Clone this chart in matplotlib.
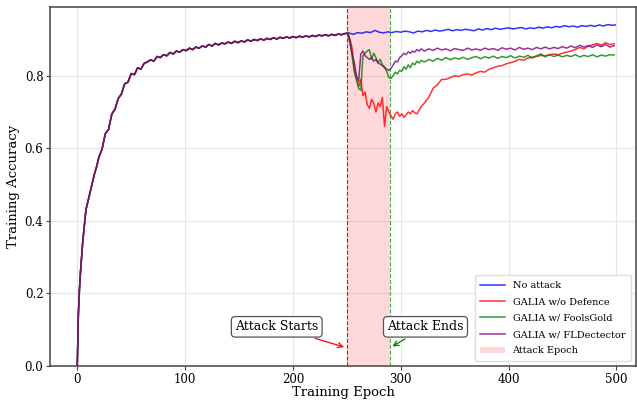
import matplotlib
matplotlib.use("Agg")
import matplotlib.pyplot as plt
import numpy as np

# 攻撃前の共通学習曲線 (全系列で同じ)
base_epochs = [0, 1, 2, 3, 4, 5, 6, 8, 10, 12, 14, 16, 18] + list(range(20, 251, 3)) + [250]
base_acc = [0.0, 0.14, 0.21, 0.26, 0.30, 0.34, 0.37, 0.43, 0.455, 0.48, 0.505, 0.53, 0.55,
            0.575, 0.598, 0.640, 0.652, 0.694, 0.708, 0.737, 0.750, 0.778, 0.782,
            0.806, 0.803, 0.822, 0.818, 0.834, 0.838, 0.844, 0.840, 0.853, 0.850,
            0.858, 0.855, 0.864, 0.860, 0.868, 0.865, 0.872, 0.869, 0.876, 0.872,
            0.879, 0.876, 0.882, 0.879, 0.886, 0.882, 0.889, 0.885, 0.890, 0.888,
            0.893, 0.889, 0.895, 0.891, 0.896, 0.893, 0.899, 0.895, 0.900, 0.897,
            0.902, 0.898, 0.903, 0.900, 0.905, 0.901, 0.906, 0.903, 0.907, 0.904,
            0.908, 0.905, 0.909, 0.906, 0.910, 0.907, 0.911, 0.908, 0.912, 0.910,
            0.913, 0.910, 0.914, 0.911, 0.915, 0.913, 0.916,
            0.917]

# 攻撃後 (No attack)
blue_epochs = list(range(252, 500, 4)) + [499]
blue_acc = [0.918, 0.914, 0.919, 0.917, 0.921, 0.919, 0.925, 0.920, 0.918, 0.921,
            0.919, 0.922, 0.920, 0.923, 0.921, 0.918, 0.923, 0.921, 0.925, 0.922,
            0.926, 0.923, 0.925, 0.928, 0.924, 0.927, 0.925, 0.928, 0.926, 0.924,
            0.929, 0.926, 0.930, 0.927, 0.931, 0.928, 0.930, 0.932, 0.929, 0.931,
            0.933, 0.929, 0.932, 0.930, 0.934, 0.931, 0.935, 0.932, 0.936, 0.934,
            0.938, 0.935, 0.937, 0.934, 0.938, 0.936, 0.939, 0.936, 0.940, 0.937,
            0.941, 0.939, 0.940]

# 攻撃中 / 攻撃後の系列
post_epochs = list(range(251, 321, 2)) + list(range(322, 500, 4))
red_acc = [0.915, 0.90, 0.875, 0.815, 0.79, 0.77, 0.79, 0.745, 0.755, 0.72,
           0.71, 0.735, 0.725, 0.70, 0.725, 0.715, 0.74, 0.66, 0.715, 0.70,
           0.69, 0.68, 0.695, 0.70, 0.688, 0.695, 0.685, 0.692, 0.70, 0.695,
           0.704, 0.698, 0.695, 0.705, 0.715,
           0.725, 0.74, 0.765, 0.775, 0.79, 0.79, 0.795, 0.80, 0.798, 0.803,
           0.805, 0.802, 0.808, 0.812, 0.81, 0.818, 0.822, 0.826, 0.828, 0.833,
           0.836, 0.84, 0.845, 0.843, 0.849, 0.85, 0.853, 0.856, 0.855, 0.858,
           0.86, 0.858, 0.862, 0.865, 0.868, 0.872, 0.878, 0.874, 0.882, 0.885,
           0.889, 0.884, 0.891, 0.886, 0.888]
green_acc = [0.92, 0.895, 0.853, 0.81, 0.79, 0.765, 0.76, 0.855, 0.862, 0.868,
             0.872, 0.845, 0.862, 0.85, 0.836, 0.845, 0.83, 0.825, 0.812, 0.795,
             0.793, 0.80, 0.81, 0.805, 0.815, 0.812, 0.825, 0.818, 0.83, 0.822,
             0.835, 0.83, 0.84, 0.835, 0.842,
             0.838, 0.845, 0.84, 0.848, 0.843, 0.85, 0.844, 0.849, 0.846, 0.851,
             0.845, 0.85, 0.853, 0.847, 0.852, 0.849, 0.854, 0.848, 0.853, 0.85,
             0.855, 0.849, 0.854, 0.851, 0.856, 0.85, 0.855, 0.86, 0.852, 0.858,
             0.853, 0.857, 0.852, 0.856, 0.853, 0.858, 0.852, 0.856, 0.853, 0.858,
             0.852, 0.857, 0.854, 0.858, 0.857]
purple_acc = [0.915, 0.89, 0.86, 0.835, 0.80, 0.785, 0.86, 0.868, 0.855, 0.85,
              0.845, 0.85, 0.84, 0.845, 0.835, 0.832, 0.828, 0.822, 0.818, 0.815,
              0.82, 0.83, 0.84, 0.838, 0.85, 0.855, 0.862, 0.858, 0.866, 0.862,
              0.868, 0.865, 0.872, 0.868, 0.874,
              0.868, 0.874, 0.87, 0.876, 0.871, 0.874, 0.869, 0.875, 0.872, 0.87,
              0.876, 0.871, 0.874, 0.87, 0.876, 0.872, 0.875, 0.87, 0.877, 0.873,
              0.876, 0.871, 0.878, 0.873, 0.876, 0.872, 0.878, 0.874, 0.879, 0.874,
              0.878, 0.875, 0.88, 0.876, 0.882, 0.877, 0.884, 0.879, 0.883, 0.878,
              0.885, 0.88, 0.886, 0.879, 0.883]

labels = ["No attack", "GALIA w/o Defence", "GALIA w/ FoolsGold", "GALIA w/ FLDectector"]
attack_start = 250
attack_end = 290

plt.rcParams['font.family'] = ['DejaVu Serif']

fig, ax = plt.subplots(figsize=(6.37, 4.0), dpi=100)
fig.subplots_adjust(left=0.079, right=0.998, top=0.983, bottom=0.085)

series = [(blue_epochs, blue_acc, "blue"), (post_epochs, red_acc, "red"),
          (post_epochs, green_acc, "green"), (post_epochs, purple_acc, "purple")]
for (t_ep, t_acc, t_col), t_lab in zip(series, labels):
    ax.plot(base_epochs + t_ep, base_acc + t_acc, color=t_col, alpha=0.8, lw=1.1, label=t_lab)

ax.axvspan(attack_start, attack_end, color="red", alpha=0.15, lw=0, label="Attack Epoch")
ax.axvline(attack_start, color="red", ls="--", lw=0.8)
ax.axvline(attack_end, color="green", ls="--", lw=0.8, alpha=0.7)

box = dict(boxstyle="round,pad=0.3", fc="white", ec="#555555", lw=0.9)
ax.annotate("Attack Starts", xy=(attack_start, 0.05), xytext=(185, 0.108),
            ha="center", va="center", fontsize=9, bbox=box,
            arrowprops=dict(arrowstyle="->", color="red", lw=0.9))
ax.annotate("Attack Ends", xy=(attack_end, 0.05), xytext=(323, 0.108),
            ha="center", va="center", fontsize=9, bbox=box,
            arrowprops=dict(arrowstyle="->", color="green", lw=0.9))

ax.set_xlim(-25, 518)
ax.set_ylim(0.0, 0.99)
ax.set_xticks([0, 100, 200, 300, 400, 500])
ax.set_yticks([0.0, 0.2, 0.4, 0.6, 0.8])
ax.set_xlabel("Training Epoch", fontsize=9.5, labelpad=0)
ax.set_ylabel("Training Accuracy", fontsize=9.5, labelpad=3)
ax.tick_params(labelsize=8.5, length=3, pad=2, color="#444444")
ax.grid(True, color="#e6e6e6", lw=0.8)
ax.set_axisbelow(True)
for t_sp in ax.spines.values():
    t_sp.set_color("#444444")
    t_sp.set_linewidth(1.1)

ax.legend(loc="lower right", fontsize=7, framealpha=1, edgecolor="#dddddd",
          handlelength=2.5, borderpad=0.6, labelspacing=0.75)

plt.savefig("out.png", dpi=100)
plt.close()
